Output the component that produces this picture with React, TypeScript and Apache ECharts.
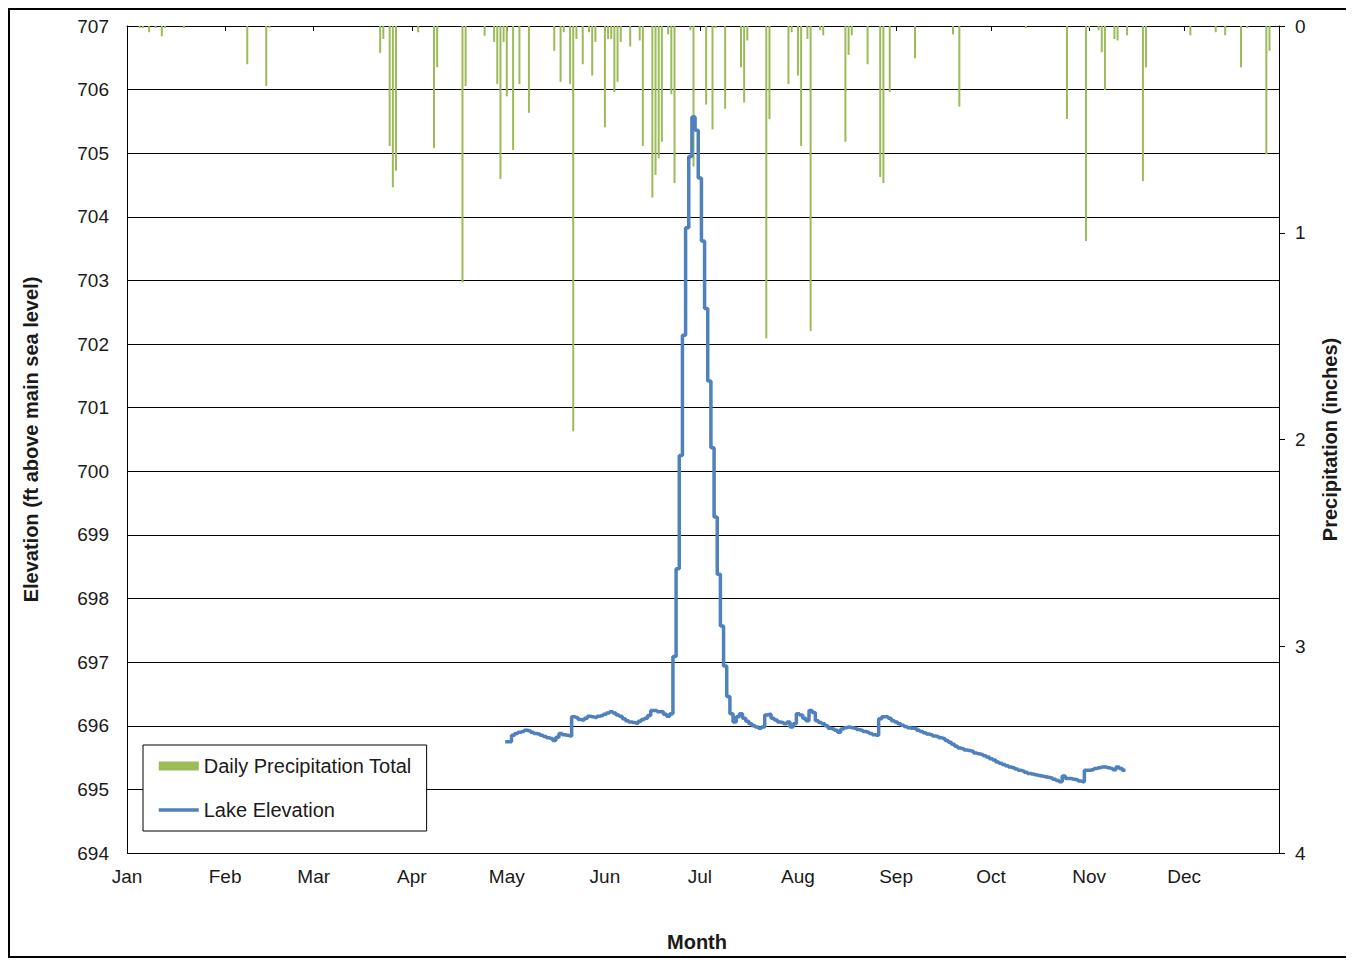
import React, { useEffect, useRef } from "react";
import * as echarts from "echarts";

const monthNames = ["Jan", "Feb", "Mar", "Apr", "May", "Jun", "Jul", "Aug", "Sep", "Oct", "Nov", "Dec"];
const monthLengths = [31, 28, 31, 30, 31, 30, 31, 31, 30, 31, 30, 31];

// Daily precipitation (day-of-year index, inches)
const rainDay = [
  4, 5, 7, 9, 11, 12, 18, 38, 44, 45, 80, 81, 83, 84, 85, 92, 97, 98, 106, 107,
  113, 116, 117, 118, 119, 120, 122, 124, 127, 135, 137, 138, 140, 141, 142, 144, 146, 147, 148, 151,
  152, 153, 154, 155, 156, 159, 162, 163, 166, 167, 168, 169, 171, 172, 173, 178, 179, 183, 185, 186,
  189, 194, 195, 196, 202, 203, 209, 210, 212, 213, 215, 216, 219, 220, 227, 228, 229, 234, 238, 239,
  241, 249, 261, 263, 284, 297, 303, 304, 307, 308, 309, 312, 313, 316, 321, 322, 336, 344, 347, 352,
  354, 360, 361,
];
const rainInches = [
  0.01, 0.01, 0.03, 0.01, 0.05, 0.01, 0.01, 0.185, 0.29, 0.01, 0.13, 0.063, 0.58, 0.78, 0.7, 0.03, 0.59, 0.2, 1.24, 0.29,
  0.047, 0.077, 0.28, 0.74, 0.077, 0.34, 0.6, 0.28, 0.42, 0.12, 0.27, 0.03, 0.28, 1.96, 0.063, 0.185, 0.03, 0.24, 0.077, 0.49,
  0.063, 0.063, 0.32, 0.27, 0.077, 0.1, 0.07, 0.58, 0.83, 0.72, 0.64, 0.56, 0.04, 0.33, 0.76, 0.02, 0.68, 0.38, 0.5, 0.01,
  0.4, 0.2, 0.37, 0.07, 1.51, 0.45, 0.28, 0.03, 0.24, 0.58, 0.063, 1.475, 0.02, 0.045, 0.56, 0.14, 0.045, 0.185, 0.73, 0.76,
  0.32, 0.156, 0.04, 0.39, 0.01, 0.45, 1.04, 0.01, 0.02, 0.127, 0.31, 0.063, 0.07, 0.045, 0.75, 0.2, 0.045, 0.03, 0.045, 0.2,
  0.01, 0.62, 0.12,
];

// Lake elevation (ft), daily, starting at day-of-year index 120 (May 1)
const elevStartDay = 120;
const elevation = [
  695.75, 695.75, 695.85, 695.88, 695.9, 695.91, 695.93, 695.92, 695.9, 695.88,
  695.87, 695.85, 695.83, 695.81, 695.8, 695.77, 695.82, 695.88, 695.86, 695.85,
  695.84, 696.14, 696.13, 696.1, 696.09, 696.12, 696.15, 696.14, 696.13, 696.15,
  696.16, 696.18, 696.2, 696.22, 696.2, 696.17, 696.15, 696.11, 696.08, 696.06,
  696.05, 696.04, 696.07, 696.1, 696.12, 696.16, 696.24, 696.24, 696.22, 696.22,
  696.18, 696.15, 696.19, 697.09, 698.47, 700.25, 702.14, 703.83, 704.95, 705.57,
  705.36, 704.61, 703.62, 702.56, 701.42, 700.37, 699.28, 698.38, 697.57, 696.94,
  696.46, 696.19, 696.06, 696.14, 696.19, 696.12, 696.07, 696.03, 696.0, 695.98,
  695.96, 695.98, 696.17, 696.18, 696.12, 696.09, 696.06, 696.05, 696.03, 696.06,
  695.98, 696.03, 696.19, 696.17, 696.12, 696.08, 696.24, 696.21, 696.08, 696.05,
  696.03, 696.0, 695.96, 695.95, 695.93, 695.9, 695.95, 695.97, 695.98, 695.97,
  695.96, 695.94, 695.93, 695.91, 695.9, 695.88, 695.86, 695.85, 696.11, 696.14,
  696.14, 696.12, 696.08, 696.06, 696.03, 696.01, 695.99, 695.97, 695.96, 695.96,
  695.93, 695.91, 695.89, 695.87, 695.86, 695.84, 695.83, 695.81, 695.8, 695.77,
  695.74, 695.71, 695.68, 695.65, 695.64, 695.62, 695.61, 695.6, 695.57, 695.56,
  695.55, 695.53, 695.51, 695.48, 695.46, 695.43, 695.41, 695.39, 695.37, 695.35,
  695.34, 695.32, 695.3, 695.29, 695.27, 695.25, 695.24, 695.23, 695.22, 695.21,
  695.2, 695.19, 695.18, 695.16, 695.14, 695.12, 695.21, 695.17, 695.17, 695.16,
  695.15, 695.13, 695.12, 695.3, 695.3, 695.31, 695.33, 695.34, 695.35, 695.35,
  695.34, 695.33, 695.31, 695.35, 695.33, 695.3,
];

export default function App() {
  const ref = useRef<HTMLDivElement>(null);

  useEffect(() => {
    if (!ref.current) return;
    const chart = echarts.init(ref.current, null, { renderer: "svg" });

    const days: string[] = [];
    const monthStart: Record<number, string> = {};
    let idx = 0;
    monthLengths.forEach((len, m) => {
      monthStart[idx] = monthNames[m];
      for (let d = 1; d <= len; d++) {
        days.push(`${monthNames[m]} ${d}`);
        idx++;
      }
    });

    const precip: (number | null)[] = days.map(() => null);
    rainDay.forEach((d, i) => {
      precip[d] = rainInches[i];
    });
    const lake: (number | null)[] = days.map(() => null);
    elevation.forEach((v, i) => {
      lake[elevStartDay + i] = v;
    });

    const isMonthStart = (i: number) => monthStart[i] !== undefined;
    const font = "Liberation Sans, Arial, sans-serif";
    const txt = "#1a1a1a";

    chart.setOption({
      animation: false,
      backgroundColor: "#fff",
      textStyle: { fontFamily: font },
      graphic: [
        {
          type: "rect",
          shape: { x: 1, y: 1, width: 1343, height: 948 },
          style: { fill: "none", stroke: "#000", lineWidth: 2 },
          silent: true,
        },
      ],
      grid: { left: 119, top: 18, right: 75, bottom: 107 },
      legend: {
        left: 135,
        top: 737,
        orient: "vertical",
        itemWidth: 40,
        itemHeight: 9,
        itemGap: 24,
        padding: [11, 15, 11, 14],
        borderColor: "#000",
        borderWidth: 1,
        backgroundColor: "#fff",
        textStyle: { fontSize: 20, color: txt, fontFamily: font },
        data: [
          { name: "Daily Precipitation Total", icon: "rect" },
          { name: "Lake Elevation", itemStyle: { opacity: 0 }, lineStyle: { width: 3.5 } },
        ],
      },
      xAxis: {
        type: "category",
        data: days,
        boundaryGap: false,
        name: "Month",
        nameLocation: "middle",
        nameGap: 79,
        nameTextStyle: { fontSize: 20, fontWeight: "bold", color: txt, fontFamily: font, padding: [0, 12, 0, 0] },
        axisLine: { lineStyle: { color: "#000", width: 1 } },
        axisTick: { show: true, interval: (i: number) => isMonthStart(i), length: 5, lineStyle: { color: "#000" } },
        axisLabel: {
          interval: (i: number) => isMonthStart(i),
          formatter: (_v: string, i: number) => monthStart[i] ?? "",
          fontSize: 19,
          color: txt,
          margin: 14,
          fontFamily: font,
        },
        splitLine: { show: false },
      },
      yAxis: [
        {
          type: "value",
          min: 694,
          max: 707,
          interval: 1,
          position: "left",
          name: "Elevation (ft above main sea level)",
          nameLocation: "middle",
          nameRotate: 90,
          nameGap: 86,
          nameTextStyle: { fontSize: 20, fontWeight: "bold", color: txt, fontFamily: font },
          axisLine: { show: true, lineStyle: { color: "#000", width: 1 } },
          axisTick: { show: false },
          axisLabel: { fontSize: 19, color: txt, margin: 18, fontFamily: font },
          splitLine: { show: true, lineStyle: { color: "#000", width: 1 } },
        },
        {
          type: "value",
          min: 0,
          max: 4,
          interval: 1,
          inverse: true,
          position: "right",
          name: "Precipitation (inches)",
          nameLocation: "middle",
          nameRotate: 90,
          nameGap: 41,
          nameTextStyle: { fontSize: 20, fontWeight: "bold", color: txt, fontFamily: font },
          axisLine: { show: true, lineStyle: { color: "#000", width: 1 } },
          axisTick: { show: true, length: 6, lineStyle: { color: "#000" } },
          axisLabel: { fontSize: 19, color: txt, margin: 16, fontFamily: font },
          splitLine: { show: false },
        },
      ],
      series: [
        {
          name: "Daily Precipitation Total",
          type: "bar",
          yAxisIndex: 1,
          data: precip,
          barWidth: 2,
          itemStyle: { color: "#9BBB59" },
          z: 2,
        },
        {
          name: "Lake Elevation",
          type: "line",
          yAxisIndex: 0,
          data: lake,
          step: "middle",
          showSymbol: false,
          symbol: "none",
          connectNulls: false,
          lineStyle: { color: "#4F81BD", width: 3.5 },
          itemStyle: { color: "#4F81BD" },
          z: 3,
        },
      ],
    });

    return () => chart.dispose();
  }, []);

  return <div ref={ref} style={{ width: 1346, height: 952 }} />;
}
